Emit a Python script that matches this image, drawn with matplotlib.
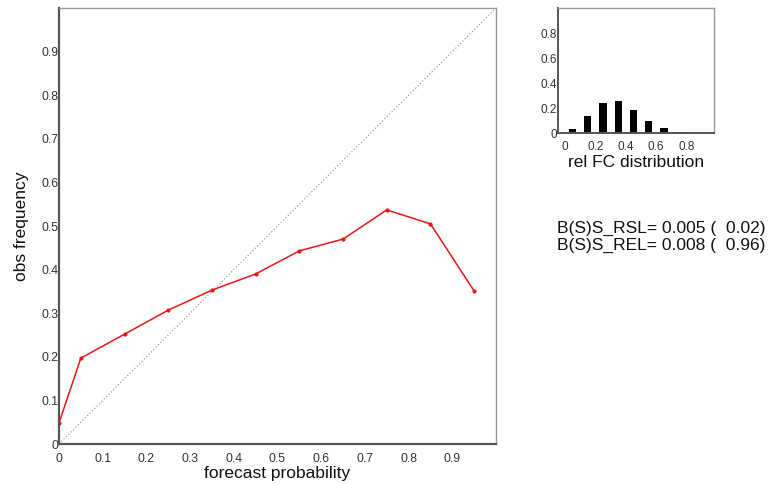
import matplotlib
matplotlib.use("Agg")
import matplotlib.pyplot as plt
import numpy as np

plt.rcParams['font.family'] = ['Liberation Sans', 'DejaVu Sans']

# Reliability data
fc_prob = [0.0, 0.05, 0.15, 0.25, 0.35, 0.45, 0.55, 0.65, 0.75, 0.85, 0.95]
obs_freq = [0.048, 0.197, 0.252, 0.307, 0.353, 0.390, 0.443, 0.470, 0.537, 0.505, 0.351]

# Forecast distribution
dist_centers = [0.05, 0.15, 0.25, 0.35, 0.45, 0.55, 0.65, 0.75, 0.85, 0.95]
dist_values = [0.035, 0.138, 0.24, 0.258, 0.186, 0.098, 0.042, 0.012, 0.004, 0.003]

main_ticks = [0, 0.1, 0.2, 0.3, 0.4, 0.5, 0.6, 0.7, 0.8, 0.9]
main_ticklabels = ['0', '0.1', '0.2', '0.3', '0.4', '0.5', '0.6', '0.7', '0.8', '0.9']
inset_ticks = [0, 0.2, 0.4, 0.6, 0.8]
inset_ticklabels = ['0', '0.2', '0.4', '0.6', '0.8']

stats_lines = ["B(S)S_RSL= 0.005 (  0.02)", "B(S)S_REL= 0.008 (  0.96)"]

fig = plt.figure(figsize=(7.74, 4.84), dpi=100)

ax = fig.add_axes([0.0762, 0.0826, 0.5646, 0.9008])
ax.plot([0, 1], [0, 1], linestyle=(0, (1, 2)), color='#8080ee', lw=0.8)
ax.plot(fc_prob, obs_freq, color='#e01818', lw=1.1, marker='o', markersize=2.0)
ax.set_xlim(0, 1)
ax.set_ylim(0, 1)
ax.set_xticks(main_ticks)
ax.set_xticklabels(main_ticklabels)
ax.set_yticks(main_ticks)
ax.set_yticklabels(main_ticklabels)
ax.tick_params(axis='both', length=0, labelsize=8.8, labelcolor='#333333')
ax.tick_params(axis='y', pad=0.5)
ax.tick_params(axis='x', pad=6.5)
ax.set_xlabel('forecast probability', fontsize=12.5, labelpad=1, color='#111111')
ax.set_ylabel('obs frequency', fontsize=12.5, labelpad=9, color='#111111')
for s in ['left', 'bottom']:
    ax.spines[s].set_color('#555555')
    ax.spines[s].set_linewidth(1.6)
for s in ['top', 'right']:
    ax.spines[s].set_color('#999999')
    ax.spines[s].set_linewidth(1.0)

ins = fig.add_axes([0.721, 0.7252, 0.2016, 0.258])
ins.bar(dist_centers, dist_values, width=0.048, color='black')
ins.set_xlim(-0.045, 0.98)
ins.set_ylim(0, 1)
ins.set_xticks(inset_ticks)
ins.set_xticklabels(inset_ticklabels)
ins.set_yticks(inset_ticks)
ins.set_yticklabels(inset_ticklabels)
ins.tick_params(axis='both', length=0, labelsize=8.5, labelcolor='#333333')
ins.tick_params(axis='y', pad=0.5)
ins.tick_params(axis='x', pad=6)
ins.set_xlabel('rel FC distribution', fontsize=12.5, labelpad=1, color='#111111')
for s in ['left', 'bottom']:
    ins.spines[s].set_color('#555555')
    ins.spines[s].set_linewidth(1.4)
for s in ['top', 'right']:
    ins.spines[s].set_color('#999999')
    ins.spines[s].set_linewidth(1.0)

fig.text(0.7197, 1 - 228 / 484, stats_lines[0], fontsize=12.5, va='center', ha='left', color='#111111')
fig.text(0.7197, 1 - 245 / 484, stats_lines[1], fontsize=12.5, va='center', ha='left', color='#111111')

fig.savefig('out.png', dpi=100)
